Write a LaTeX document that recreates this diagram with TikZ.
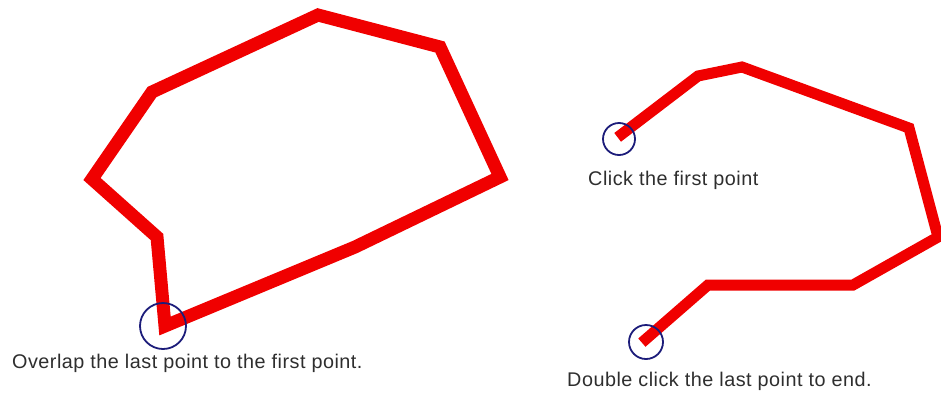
\documentclass[tikz,border=0pt]{standalone}
\usepackage{fontspec}
\setmainfont{Liberation Sans}
\newfontfamily\hintfont[LetterSpace=2.5]{Liberation Sans}
\usepackage{xcolor}
\definecolor{strokered}{HTML}{F00000}
\definecolor{markblue}{HTML}{1C1C7A}
\definecolor{hintgray}{HTML}{2E2E2E}

\begin{document}
\begin{tikzpicture}[
    x=1pt,y=-1pt,
    stroke/.style={strokered,line width=13pt,line join=miter},
    ring/.style={draw=markblue,line width=1.8pt},
    hint/.style={anchor=base west,inner sep=0pt,text=hintgray,font=\hintfont\fontsize{19.8}{22}\selectfont}
]
\useasboundingbox (0,0) rectangle (941,394);

% closed shape on the left
\coordinate (p0) at (165,326);
\coordinate (p1) at (157,237);
\coordinate (p2) at (92,179);
\coordinate (p3) at (152,92);
\coordinate (p4) at (318,15);
\coordinate (p5) at (440,47);
\coordinate (p6) at (500,177);
\coordinate (p7) at (355,247);
\draw[stroke] (p0) -- (p1) -- (p2) -- (p3) -- (p4) -- (p5) -- (p6) -- (p7) -- cycle;
\draw[ring] (163,326) circle (23);
\node[hint] (overlap) at (12,368) {Overlap the last point to the first point.};

% open line on the right
\coordinate (q0) at (622,134);
\coordinate (q1) at (698,76);
\coordinate (q2) at (742,67);
\coordinate (q3) at (909,128);
\coordinate (q4) at (938,237);
\coordinate (q5) at (853,285);
\coordinate (q6) at (708,285);
\coordinate (q7) at (646,339);
\draw[stroke,line width=11pt,line cap=rect] (q0) -- (q1) -- (q2) -- (q3) -- (q4) -- (q5) -- (q6) -- (q7);
\draw[ring] (619,139) circle (16);
\draw[ring] (646,342) circle (17);
\node[hint] (first) at (588,185) {Click the first point};
\node[hint] (last) at (567,386) {Double click the last point to end.};
\end{tikzpicture}
\end{document}
